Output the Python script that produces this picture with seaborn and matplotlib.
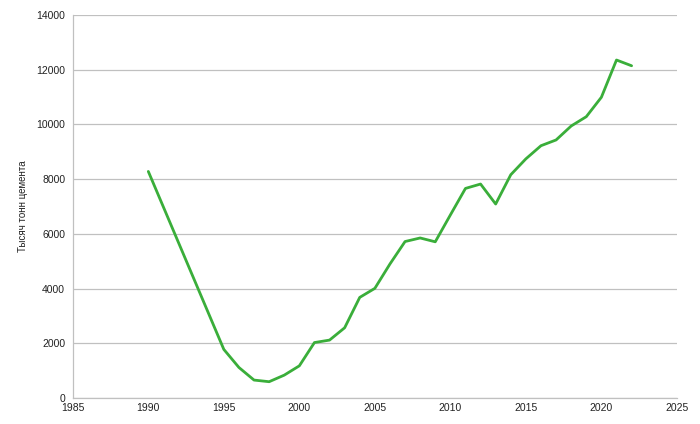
import pandas as pd
import matplotlib
matplotlib.use("Agg")
import matplotlib.pyplot as plt
import seaborn as sns

# cement output, thousand tonnes
years = [1990, 1995, 1996, 1997, 1998, 1999, 2000, 2001, 2002, 2003, 2004,
         2005, 2006, 2007, 2008, 2009, 2010, 2011, 2012, 2013, 2014, 2015,
         2016, 2017, 2018, 2019, 2020, 2021, 2022]
cement = [8280, 1780, 1120, 660, 600, 840, 1180, 2030, 2120, 2570, 3680,
          4010, 4900, 5720, 5850, 5710, 6690, 7660, 7820, 7090, 8160, 8740,
          9220, 9430, 9940, 10280, 10990, 12350, 12140]
x_ticks = [1985, 1990, 1995, 2000, 2005, 2010, 2015, 2020, 2025]
y_ticks = [0, 2000, 4000, 6000, 8000, 10000, 12000, 14000]

df = pd.DataFrame({"year": years, "cement": cement})

sns.set_style("white")
plt.rcParams["font.family"] = ["Liberation Sans", "DejaVu Sans"]

fig, ax = plt.subplots(figsize=(7, 4.24), dpi=100)
fig.subplots_adjust(left=0.104, right=0.967, top=0.965, bottom=0.061)

sns.lineplot(data=df, x="year", y="cement", color="#3aae3a", linewidth=2, ax=ax)

ax.set_xlim(1985, 2025)
ax.set_ylim(0, 14000)
ax.set_xticks(x_ticks)
ax.set_yticks(y_ticks)
ax.yaxis.grid(True, color="#c0c0c0", linewidth=0.9)
ax.set_axisbelow(True)

for s in ["top", "right"]:
    ax.spines[s].set_visible(False)
for s in ["left", "bottom"]:
    ax.spines[s].set_color("#c0c0c0")
    ax.spines[s].set_linewidth(0.9)

ax.tick_params(axis="both", labelsize=7.5, colors="#c0c0c0", labelcolor="#222222",
               length=4, width=0.9, pad=1.5)
ax.tick_params(axis="x", direction="inout")
ax.tick_params(axis="y", direction="out")

ax.set_xlabel("")
ax.set_ylabel("Тысяч тонн цемента", fontsize=7, color="#222222", labelpad=6)

fig.savefig("out.png", dpi=100)
